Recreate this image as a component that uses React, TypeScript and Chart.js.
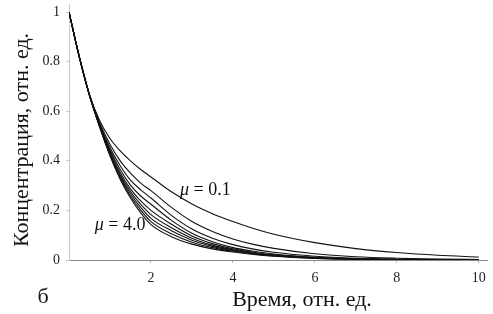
import { useEffect, useRef } from "react";
import { Chart, registerables } from "chart.js";

Chart.register(...registerables);

// Time, rel. units
const times = [0, 0.25, 0.5, 0.75, 1, 1.25, 1.5, 1.75, 2, 2.5, 3, 3.5, 4, 4.5, 5, 6, 7, 8, 9, 10];

// Concentration curves for different mu
const muValues = ["0.1", "0.5", "1.0", "1.5", "2.0", "2.5", "3.0", "3.5", "4.0"];
const c_mu01 = [1, 0.82, 0.667, 0.562, 0.49, 0.44, 0.4, 0.365, 0.335, 0.275, 0.226, 0.187, 0.155, 0.127, 0.104, 0.07, 0.046, 0.03, 0.019, 0.012];
const c_mu05 = [1, 0.82, 0.666, 0.553, 0.467, 0.4, 0.35, 0.31, 0.28, 0.212, 0.155, 0.115, 0.085, 0.063, 0.047, 0.025, 0.013, 0.007, 0.0036, 0.0019];
const c_mu10 = [1, 0.82, 0.666, 0.548, 0.454, 0.38, 0.322, 0.283, 0.25, 0.18, 0.125, 0.088, 0.062, 0.044, 0.031, 0.015, 0.007, 0.0033, 0.0016, 0.0008];
const c_mu15 = [1, 0.82, 0.665, 0.545, 0.445, 0.365, 0.302, 0.258, 0.225, 0.16, 0.108, 0.074, 0.05, 0.035, 0.024, 0.011, 0.005, 0.0023, 0.0011, 0.0005];
const c_mu20 = [1, 0.82, 0.665, 0.542, 0.438, 0.353, 0.287, 0.238, 0.2, 0.144, 0.097, 0.066, 0.045, 0.031, 0.021, 0.0095, 0.0043, 0.002, 0.0009, 0.0004];
const c_mu25 = [1, 0.82, 0.664, 0.54, 0.432, 0.344, 0.276, 0.224, 0.183, 0.13, 0.088, 0.06, 0.041, 0.028, 0.019, 0.0085, 0.0039, 0.0018, 0.0008, 0.0004];
const c_mu30 = [1, 0.82, 0.664, 0.538, 0.427, 0.337, 0.267, 0.212, 0.168, 0.118, 0.08, 0.055, 0.038, 0.026, 0.018, 0.008, 0.0036, 0.0016, 0.0007, 0.0003];
const c_mu35 = [1, 0.82, 0.663, 0.537, 0.423, 0.331, 0.258, 0.201, 0.155, 0.106, 0.072, 0.05, 0.035, 0.024, 0.016, 0.0072, 0.0033, 0.0015, 0.0007, 0.0003];
const c_mu40 = [1, 0.82, 0.663, 0.535, 0.42, 0.325, 0.25, 0.19, 0.143, 0.094, 0.064, 0.045, 0.032, 0.022, 0.015, 0.0065, 0.003, 0.0013, 0.0006, 0.0003];

const series = [c_mu01, c_mu05, c_mu10, c_mu15, c_mu20, c_mu25, c_mu30, c_mu35, c_mu40];

const xTickValues = [2, 4, 6, 8, 10];
const yTickValues = [0, 0.2, 0.4, 0.6, 0.8, 1];
const yTickLabels = ["0", "0.2", "0.4", "0.6", "0.8", "1"];

const xTitle = "Время, отн. ед.";
const yTitle = "Концентрация, отн. ед.";
const panelLetter = "б";
const labelHigh = "0.1";
const labelLow = "4.0";

const SERIF = '"Liberation Serif", "DejaVu Serif", serif';

const textPlugin = {
  id: "texts",
  afterDraw(chart: any) {
    const ctx = chart.ctx as CanvasRenderingContext2D;
    const xs = chart.scales.x;
    const ys = chart.scales.y;
    ctx.save();
    ctx.fillStyle = "#111";
    ctx.textBaseline = "alphabetic";

    // x title
    ctx.font = `22px ${SERIF}`;
    ctx.textAlign = "center";
    ctx.fillText(xTitle, 302, 306);

    // panel letter
    ctx.fillText(panelLetter, 43, 303);

    // y title
    ctx.save();
    ctx.translate(28, 140);
    ctx.rotate(-Math.PI / 2);
    ctx.textAlign = "center";
    ctx.fillText(yTitle, 0, 0);
    ctx.restore();

    // mu labels
    const drawMu = (value: string, t: number, c: number) => {
      const px = xs.getPixelForValue(t);
      const py = ys.getPixelForValue(c);
      ctx.textAlign = "left";
      ctx.font = `italic 18px ${SERIF}`;
      ctx.fillText("μ", px, py);
      const w = ctx.measureText("μ").width;
      ctx.font = `18px ${SERIF}`;
      ctx.fillText(" = " + value, px + w, py);
    };
    drawMu(labelHigh, 2.71, 0.262);
    drawMu(labelLow, 0.63, 0.121);
    ctx.restore();
  },
};

export default function App() {
  const ref = useRef<HTMLCanvasElement | null>(null);

  useEffect(() => {
    if (!ref.current) return;
    const chart = new Chart(ref.current, {
      type: "line",
      data: {
        datasets: series.map((s, i) => ({
          label: "μ = " + muValues[i],
          data: times.map((t, j) => ({ x: t, y: s[j] })),
          borderColor: "#111",
          borderWidth: 1.1,
          pointRadius: 0,
          fill: false,
          cubicInterpolationMode: "monotone" as const,
        })),
      },
      options: {
        responsive: false,
        animation: false,
        layout: { padding: { left: 0, right: 6, top: 4.6, bottom: 0 } },
        plugins: {
          legend: { display: false },
          tooltip: { enabled: false },
        },
        scales: {
          x: {
            type: "linear",
            min: 0,
            max: 10.2,
            afterFit: (s: any) => {
              s.height = 54;
              s.paddingLeft = 0;
              s.paddingRight = 0;
            },
            afterBuildTicks: (s: any) => {
              s.ticks = xTickValues.map((v) => ({ value: v }));
            },
            grid: { display: true, drawOnChartArea: false, drawTicks: true, tickLength: 3, color: "#bbb" },
            border: { display: true, color: "#888", width: 1 },
            ticks: {
              font: { family: SERIF, size: 14 },
              color: "#222",
              padding: 7,
              maxRotation: 0,
              callback: (v: any) => String(v),
            },
          },
          y: {
            type: "linear",
            min: 0,
            max: 1.03,
            afterFit: (s: any) => {
              s.width = 69;
              s.paddingTop = 0;
              s.paddingBottom = 0;
            },
            afterBuildTicks: (s: any) => {
              s.ticks = yTickValues.map((v) => ({ value: v }));
            },
            grid: { display: true, drawOnChartArea: false, drawTicks: true, tickLength: 3, color: "#ccc" },
            border: { display: true, color: "#c8c8c8", width: 1 },
            ticks: {
              font: { family: SERIF, size: 14 },
              color: "#222",
              padding: 6,
              callback: (v: any) => {
                const i = yTickValues.indexOf(Number(v));
                return i >= 0 ? yTickLabels[i] : "";
              },
            },
          },
        },
      },
      plugins: [textPlugin],
    });
    return () => chart.destroy();
  }, []);

  return (
    <div style={{ position: "absolute", left: 0, top: 0, width: 493, height: 314, background: "#fff" }}>
      <canvas ref={ref} width={493} height={314} style={{ display: "block" }} />
    </div>
  );
}
